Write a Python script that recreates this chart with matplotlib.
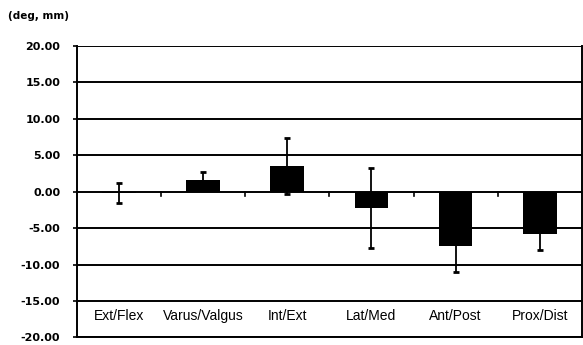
import matplotlib.pyplot as plt
import numpy as np
from matplotlib.transforms import blended_transform_factory

# data
labels = ['Ext/Flex', 'Varus/Valgus', 'Int/Ext', 'Lat/Med', 'Ant/Post', 'Prox/Dist']
means = [-0.2, 1.55, 3.5, -2.3, -7.5, -5.8]
errs = [1.4, 1.1, 3.8, 5.5, 3.5, 2.2]
yticks = [-20, -15, -10, -5, 0, 5, 10, 15, 20]

fig = plt.figure(figsize=(5.83, 3.45), dpi=100)
ax = fig.add_axes([0.132, 0.022, 0.866, 0.845])

x = np.arange(len(labels))
ax.bar(x, means, width=0.4, color='black', zorder=3)
ax.errorbar(x, means, yerr=errs, fmt='none', ecolor='black', elinewidth=1.3,
            capsize=2.5, capthick=2, zorder=4)

# grid lines
for v in yticks:
    ax.axhline(v, color='black', lw=1.4, zorder=1)

# small ticks under the zero line between categories
for b in np.arange(0.5, len(labels) - 1, 1.0):
    ax.plot([b, b], [0, -0.6], color='black', lw=1.2, zorder=2)

ax.set_xlim(-0.5, len(labels) - 0.5)
ax.set_ylim(-20, 20)
ax.set_yticks(yticks)
ax.set_yticklabels(['%.2f' % v for v in yticks], fontsize=8, fontweight='bold',
                   family='DejaVu Sans')
ax.tick_params(axis='y', length=3, width=1.2, pad=9)
ax.set_xticks([])

for s in ax.spines.values():
    s.set_linewidth(1.4)
ax.spines['top'].set_visible(False)

# category labels sit inside the plot, near the bottom
tr = blended_transform_factory(ax.transData, ax.transData)
for i, lab in enumerate(labels):
    ax.text(i, -17.0, lab, ha='center', va='center', fontsize=10,
            family='Liberation Sans', transform=tr)

fig.text(0.013, 0.955, '(deg, mm)', fontsize=7.5, fontweight='bold',
         family='DejaVu Sans', va='center')

fig.savefig('out.png', dpi=100)
